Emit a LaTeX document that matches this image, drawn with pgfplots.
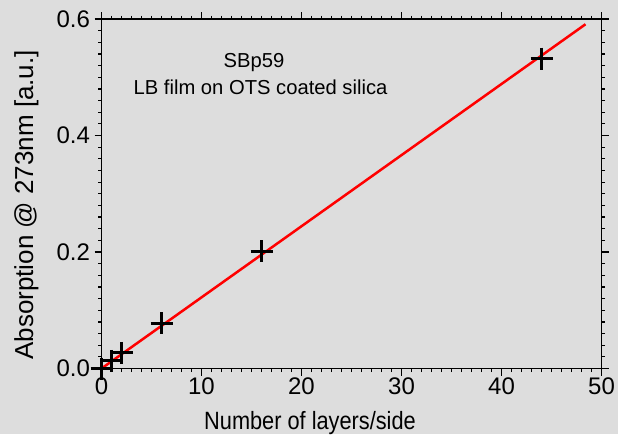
\documentclass[border=0pt]{standalone}
\usepackage{pgfplots}
\pgfplotsset{compat=1.18}
\usepackage{fontspec}
\setmainfont{Liberation Sans}
\newfontfamily\xlabfont[FakeStretch=0.87]{Liberation Sans}
\definecolor{bg}{RGB}{221,221,221}
\begin{document}
\begin{tikzpicture}[x=1pt,y=1pt]
\fill[bg] (0,0) rectangle (618,434);
\useasboundingbox (0,0) rectangle (618,434);
\begin{axis}[
  at={(101.5pt,65.5pt)}, anchor=south west,
  scale only axis, width=500pt, height=349.5pt,
  xmin=0, xmax=50, ymin=0, ymax=0.6,
  xtick={0,10,...,50}, ytick={0,0.2,0.4,0.6},
  minor x tick num=9, minor y tick num=9,
  tick align=outside,
  major tick length=7pt, minor tick length=3.5pt,
  tick style={black, line width=1.2pt},
  axis line style={line width=1.8pt},
  /pgf/number format/assume math mode=true,
  ticklabel style={font=\fontsize{24}{24}\selectfont},
  yticklabel style={/pgf/number format/fixed, /pgf/number format/precision=1, /pgf/number format/fixed zerofill, xshift=-1pt},
  xticklabel style={yshift=1pt},
  xlabel={Number of layers/side},
  ylabel={Absorption @ 273nm [a.u.]},
  xlabel style={font=\xlabfont\fontsize{25}{25}\selectfont, at={(axis description cs:0.417,-0.174)}, anchor=base},
  ylabel style={font=\fontsize{26}{26}\selectfont, at={(axis description cs:-0.137,0.468)}, rotate=0, anchor=base},
  clip=false,
]
\addplot[red, line width=2.5pt] coordinates {(0,0) (48.4,0.591)};
\addplot[only marks, mark=+, mark size=11pt, mark options={line width=3pt, black}] coordinates {
  (0,0) (1,0.013) (2,0.027) (6,0.078) (16,0.201) (44,0.532)
};
\end{axis}
\node[font=\fontsize{20.2}{20.2}\selectfont, anchor=base] at (254,366.3) {SBp59};
\node[font=\fontsize{20.2}{20.2}\selectfont, anchor=base] at (260.5,339) {LB film on OTS coated silica};
\end{tikzpicture}
\end{document}
